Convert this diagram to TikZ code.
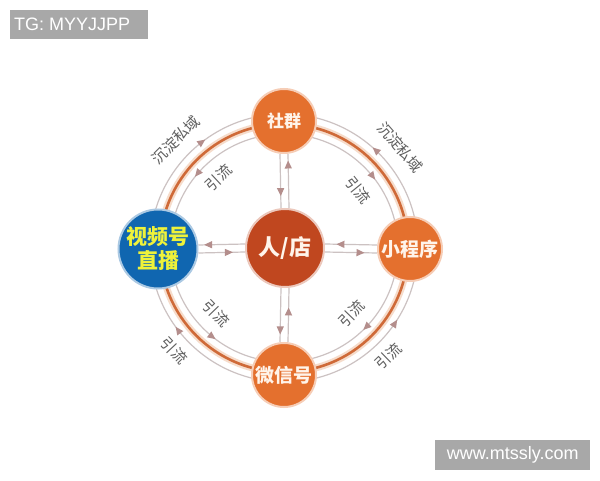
\documentclass[tikz,border=0pt]{standalone}
\usepackage{fontspec}
\setmainfont{Noto Sans CJK SC}
\newfontfamily\wmfont{Liberation Sans}
\usepackage{tikz}
\usetikzlibrary{arrows.meta,calc,decorations.markings}
\definecolor{hubOrange}{HTML}{E4702E}
\definecolor{storeRed}{HTML}{C0471F}
\definecolor{liveBlue}{HTML}{1066B0}
\definecolor{liveYellow}{HTML}{EEF23A}
\definecolor{hubText}{HTML}{FFF4EA}
\definecolor{ringOrange}{HTML}{CF6A38}
\definecolor{ringGlow}{HTML}{F6DCCB}
\definecolor{lineGray}{HTML}{CCC2C2}
\definecolor{tipBrown}{HTML}{B48E8C}
\definecolor{tagGray}{HTML}{5E5E5E}
\definecolor{wmGray}{HTML}{A8A8A8}
\tikzset{
	hub/.style={circle, fill=hubOrange, draw=hubOrange!35, line width=2, text=hubText, inner sep=0, minimum size=64, font=\fontsize{19}{22}\selectfont\bfseries},
	link/.style={draw=lineGray, line width=1.2},
	tipat/.style={postaction={decorate, decoration={markings, mark=at position #1 with {\arrow{Triangle[length=8pt,width=7pt,color=tipBrown]}}}}},
	tag/.style={text=tagGray, inner sep=0, font=\fontsize{15}{17}\selectfont},
	wmbox/.style={fill=wmGray, text=white, inner sep=0, font=\wmfont\fontsize{18}{20}\selectfont},
}
\begin{document}
\begin{tikzpicture}[x=1pt, y=1pt]
		\useasboundingbox[fill=white] (0,0) rectangle (600,480);
		% Rings and arrows:
		\coordinate (c) at (284,232);
		\draw[ringGlow, line width=7] (c) circle[radius=124];
		\draw[ringOrange, line width=2.6] (c) circle[radius=124];
		\draw[link, tipat=0.6] ($(c)+(180:134)$) arc[start angle=180, end angle=90, radius=134];
		\draw[link, tipat=0.54] ($(c)+(0:134)$) arc[start angle=0, end angle=90, radius=134];
		\draw[link, tipat=0.6] ($(c)+(270:134)$) arc[start angle=270, end angle=180, radius=134];
		\draw[link, tipat=0.64] ($(c)+(270:134)$) arc[start angle=270, end angle=360, radius=134];
		\draw[link, tipat=0.57] ($(c)+(90:114)$) arc[start angle=90, end angle=180, radius=114];
		\draw[link, tipat=0.59] ($(c)+(90:114)$) arc[start angle=90, end angle=0, radius=114];
		\draw[link, tipat=0.59] ($(c)+(180:114)$) arc[start angle=180, end angle=270, radius=114];
		\draw[link, tipat=0.51] ($(c)+(360:114)$) arc[start angle=360, end angle=270, radius=114];
		% Ring labels:
		\node[tag, rotate=45] at ($(c)+(135:153)$) {沉淀私域};
		\node[tag, rotate=-49] at ($(c)+(41:154)$) {沉淀私域};
		\node[tag, rotate=43] at ($(c)+(133:96)$) {引流};
		\node[tag, rotate=-51] at ($(c)+(38:94)$) {引流};
		\node[tag, rotate=46] at ($(c)+(-44:94)$) {引流};
		\node[tag, rotate=44] at ($(c)+(-46:150)$) {引流};
		\node[tag, rotate=-46] at ($(c)+(224:94)$) {引流};
		\node[tag, rotate=-47] at ($(c)+(223:150)$) {引流};
		% Nodes:
		\node[hub, fill=storeRed, draw=storeRed!30, minimum size=78, font=\fontsize{22}{24}\selectfont\bfseries] (store) at (285,232) {人/店};
		\node[hub, font=\fontsize{17}{20}\selectfont\bfseries] (shequn) at (284,359) {社群};
		\node[hub] (chengxu) at (410,231) {小程序};
		\node[hub] (weixin) at (284,105) {微信号};
		\node[hub, fill=liveBlue, draw=liveBlue!35, minimum size=79, text=liveYellow, align=center, font=\fontsize{21}{24}\selectfont\bfseries] (live) at (158,231) {视频号\\直播};
		% Links to the store:
		\draw[link, tipat=0.78] ([xshift=-4]shequn.south) -- ([xshift=-4]store.north);
		\draw[link, tipat=0.88] ([xshift=4]store.north) -- ([xshift=4]shequn.south);
		\draw[link, tipat=0.86] ([xshift=-4]store.south) -- ([xshift=-4]weixin.north);
		\draw[link, tipat=0.64] ([xshift=4]weixin.north) -- ([xshift=4]store.south);
		\draw[link, tipat=0.88] ([yshift=4]store.west) -- ([yshift=4]live.east);
		\draw[link, tipat=0.74] ([yshift=-4]live.east) -- ([yshift=-4]store.west);
		\draw[link, tipat=0.78] ([yshift=4]chengxu.west) -- ([yshift=4]store.east);
		\draw[link, tipat=0.76] ([yshift=-4]store.east) -- ([yshift=-4]chengxu.west);
		% Corner marks:
		\node[wmbox, minimum width=138, minimum height=29, anchor=south west] (tg) at (10,441) {\hspace*{-14pt}TG: MYYJJPP};
		\node[wmbox, minimum width=155, minimum height=30, anchor=south west] (site) at (435,10) {www.mtssly.com};
	\end{tikzpicture}
\end{document}
